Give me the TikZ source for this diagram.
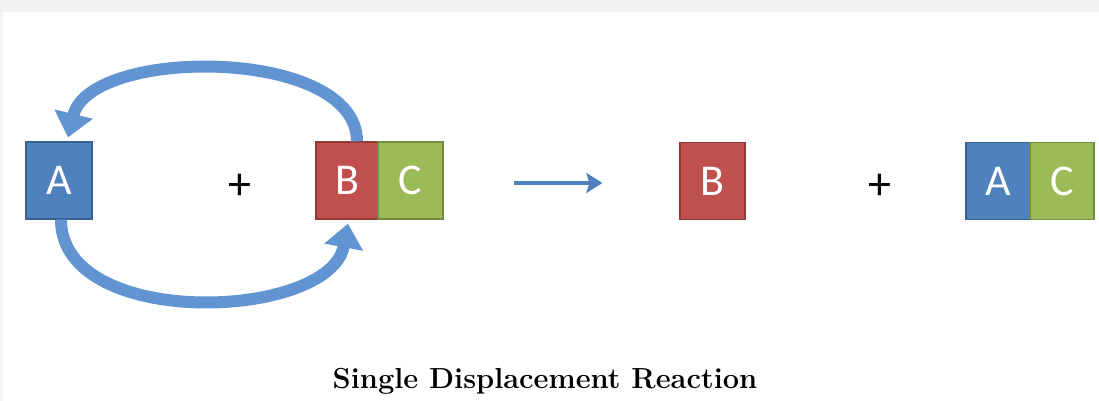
\documentclass[tikz,border=0pt]{standalone}
\usepackage{fontspec}
\newfontfamily\boxfont{Carlito}
\usetikzlibrary{arrows.meta, positioning}
\definecolor{bgGrey}{RGB}{242,242,242}
\definecolor{aBlue}{RGB}{79,129,189}
\definecolor{aBlueDark}{RGB}{58,96,142}
\definecolor{bRed}{RGB}{192,80,77}
\definecolor{bRedDark}{RGB}{142,58,56}
\definecolor{cGreen}{RGB}{155,187,89}
\definecolor{cGreenDark}{RGB}{115,140,64}
\definecolor{swapBlue}{RGB}{98,148,210}

\begin{document}
\begin{tikzpicture}[x=1pt, y=1pt,
    box/.style={rectangle, minimum width=66pt, minimum height=77pt, inner sep=0pt,
      line width=1.2pt, text=white, font=\boxfont\fontsize{44}{44}\selectfont},
    abox/.style={box, fill=aBlue, draw=aBlueDark},
    bbox/.style={box, fill=bRed, draw=bRedDark},
    cbox/.style={box, fill=cGreen, draw=cGreenDark},
    plus/.style={font=\boxfont\fontsize{46}{46}\selectfont, inner sep=0pt},
    swap/.style={line width=12pt, draw=swapBlue, -{Triangle[width=38pt,length=24pt]}},
    react/.style={line width=3.5pt, draw=aBlue, -{Stealth[length=16pt,width=20pt,inset=3pt]}}]
    % background and margins
    \fill[bgGrey] (0,0) rectangle (1099,401);
    \fill[white] (3,0) rectangle (1099,389);
    \useasboundingbox (0,0) rectangle (1099,401);

    % reactants
    \node[abox] (a1) at (59,220.5) {A};
    \node[plus] (p1) at (240,214) {+};
    \node[bbox, minimum width=62pt] (b1) at (347,220.5) {B};
    \node[cbox, minimum width=65pt] (c1) [right=-1.2pt of b1] {C};

    % products
    \node[bbox, minimum width=65pt] (b2) at (712.5,220) {B};
    \node[plus] (p2) at (880,214) {+};
    \node[abox, minimum width=64pt] (a2) at (998,220) {A};
    \node[cbox, minimum width=64pt] (c2) [right=-1.2pt of a2] {C};

    \node[font=\bfseries\fontsize{29}{34}\selectfont] (title) at (545,20) {Single Displacement Reaction};

    % swap arrows
    \draw[swap] ([xshift=10pt]b1.north) .. controls +(0,95) and +(22,91) .. ([xshift=9pt,yshift=4pt]a1.north);
    \draw[swap] ([xshift=2pt]a1.south) .. controls +(0,-111) and +(-18,-97) .. ([xshift=1pt,yshift=-4pt]b1.south);

    \draw[react, shorten <=70pt, shorten >=77pt] ([yshift=-2.5pt]c1.east) -- ([yshift=-2pt]b2.west);
\end{tikzpicture}
\end{document}
